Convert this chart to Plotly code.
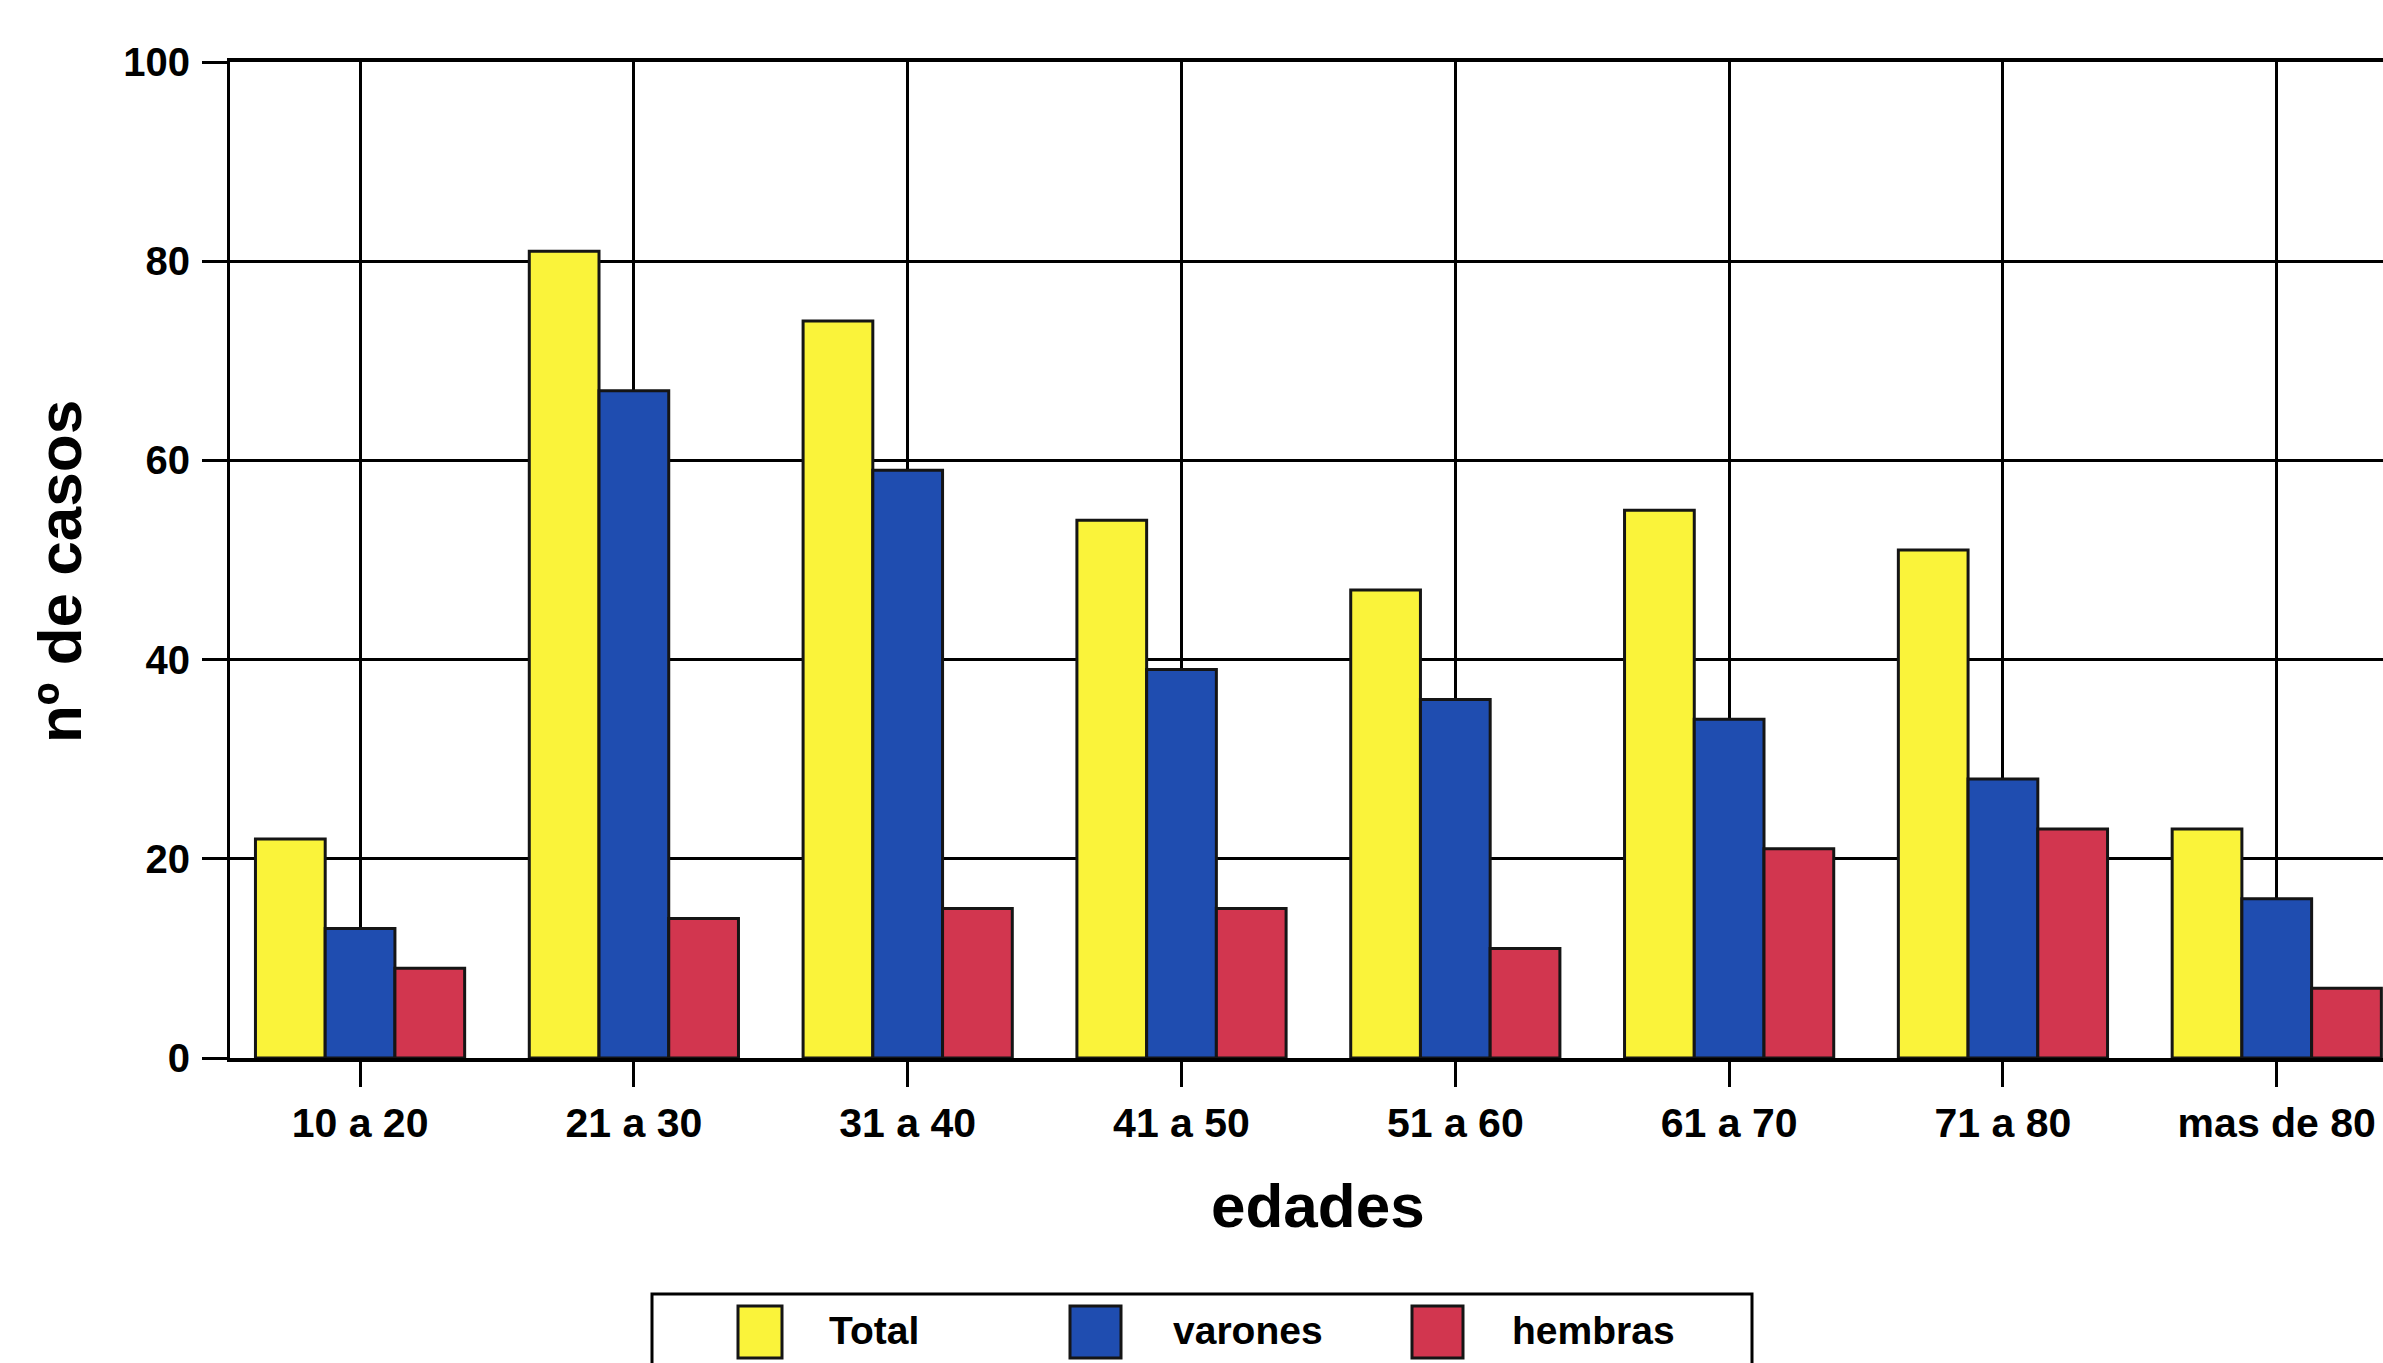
import plotly.graph_objects as go

# Datos: casos por grupo de edad
categorias = ["10 a 20", "21 a 30", "31 a 40", "41 a 50", "51 a 60", "61 a 70", "71 a 80", "mas de 80"]
total = [22, 81, 74, 54, 47, 55, 51, 23]
varones = [13, 67, 59, 39, 36, 34, 28, 16]
hembras = [9, 14, 15, 15, 11, 21, 23, 7]
nombres_series = ["Total", "varones", "hembras"]
marcas_y = [0, 20, 40, 60, 80, 100]
titulo_eje_x = "edades"
titulo_eje_y = "nº de casos"

colores = ["#FAF33A", "#1F4DB0", "#D2364F"]
borde = "#151515"
fuente = "Liberation Sans, Arial, sans-serif"

W, H = 2383, 1363
ML, MT, MB = 230, 62, 305
PW, PH = W - ML, H - MT - MB


def px_x(X):
    return (X - ML) / PW


def px_y(Y):
    return (H - MB - Y) / PH


fig = go.Figure()
for nombre, valores, color in zip(nombres_series, [total, varones, hembras], colores):
    fig.add_trace(go.Bar(
        x=categorias, y=valores, name=nombre,
        marker=dict(color=color, line=dict(color=borde, width=3)),
        showlegend=False,
    ))

fig.update_layout(
    width=W, height=H,
    margin=dict(l=ML, r=0, t=MT, b=MB),
    paper_bgcolor="white", plot_bgcolor="white",
    barmode="group", bargap=0.236, bargroupgap=0,
    font=dict(family=fuente, color="black"),
)

fig.update_xaxes(
    type="category", range=[-0.475, 7.388],
    showgrid=True, gridcolor="black", gridwidth=3,
    showline=True, linecolor="black", linewidth=4, mirror=True,
    ticks="outside", ticklen=25, tickwidth=3, tickcolor="black",
    tickfont=dict(family=fuente, size=41, weight="bold"),
    ticklabelstandoff=1,
)
fig.update_yaxes(
    range=[0, 100], tickvals=marcas_y, ticktext=[str(v) for v in marcas_y],
    showgrid=True, gridcolor="black", gridwidth=3, zeroline=False,
    showline=True, linecolor="black", linewidth=3,
    ticks="outside", ticklen=25, tickwidth=3, tickcolor="black",
    tickfont=dict(family=fuente, size=40, weight="bold"),
    ticklabelstandoff=4,
)

anotaciones = [
    # títulos de ejes
    dict(text=titulo_eje_x, xref="x", yref="paper", x=3.5, y=px_y(1205),
         xanchor="center", yanchor="middle", showarrow=False,
         font=dict(family=fuente, size=62, weight="bold")),
    dict(text=titulo_eje_y, xref="paper", yref="paper", x=px_x(59), y=px_y(572),
         xanchor="center", yanchor="middle", showarrow=False, textangle=-90,
         font=dict(family=fuente, size=62, weight="bold")),
]

# leyenda: recuadro, muestras de color y etiquetas
formas = [dict(type="rect", xref="paper", yref="paper",
               x0=px_x(652), x1=px_x(1752), y0=px_y(1294), y1=px_y(1440),
               line=dict(color="black", width=3), fillcolor="rgba(0,0,0,0)")]
muestras_x = [(738, 782), (1070, 1121), (1412, 1463)]
etiquetas_x = [827, 1171, 1510]
for nombre, color, (x0, x1), xt in zip(nombres_series, colores, muestras_x, etiquetas_x):
    formas.append(dict(type="rect", xref="paper", yref="paper",
                       x0=px_x(x0), x1=px_x(x1), y0=px_y(1306), y1=px_y(1358),
                       line=dict(color=borde, width=3), fillcolor=color))
    anotaciones.append(dict(text=nombre, xref="paper", yref="paper",
                            x=px_x(xt), y=px_y(1330), xanchor="left", yanchor="middle",
                            showarrow=False,
                            font=dict(family=fuente, size=39, weight="bold")))

fig.update_layout(annotations=anotaciones, shapes=formas)
fig.write_html("out.html")
